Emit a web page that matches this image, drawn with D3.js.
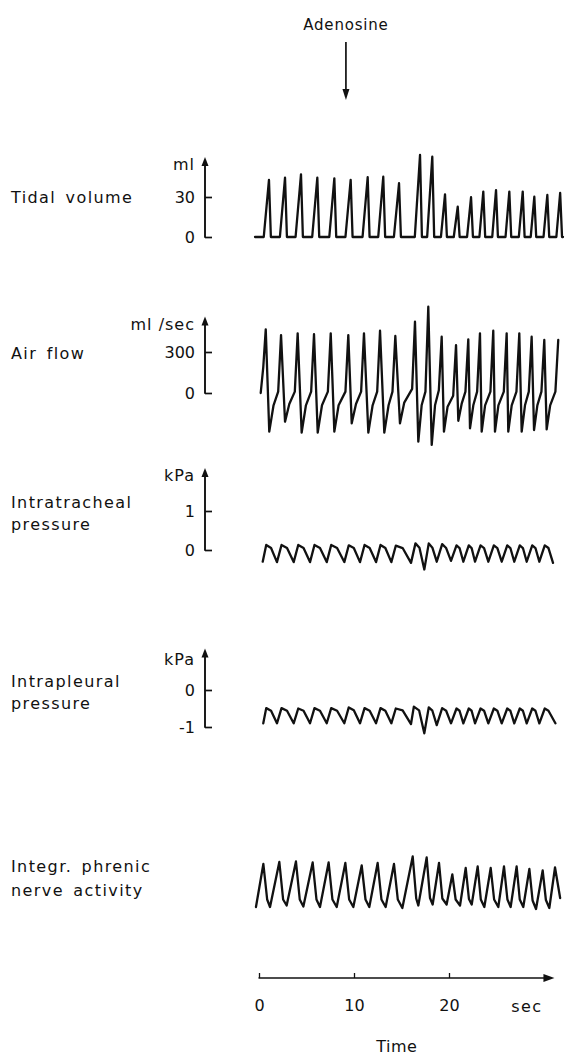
<!DOCTYPE html>
<html><head><meta charset="utf-8">
<script src="https://cdn.jsdelivr.net/npm/d3@7"></script>
<style>
body{margin:0;background:#fff;}
svg text{font-family:"DejaVu Sans",sans-serif;fill:#111;}
</style></head><body>
<svg id="chart" width="565" height="1060"></svg>
<script>
// ---------------- DATA ----------------
const timeTicks = [0, 10, 20];
const timeUnit = "sec";
const timeTitle = "Time";
const adenosineLabel = "Adenosine";
const adenosineTime = 9.15;

const panelNames = [["Tidal volume"], ["Air flow"], ["Intratracheal", "pressure"], ["Intrapleural", "pressure"], ["Integr. phrenic", "nerve activity"]];
const panelUnits = ["ml", "ml /sec", "kPa", "kPa", ""];
const tidalTicks = [0, 30];
const flowTicks = [0, 300];
const trachTicks = [0, 1];
const pleuralTicks = [-1, 0];

// Tidal volume (ml): foot, peak, end of each breath
const tidalStart = [-0.42, 32.0];
const tidalFootT = [0.5, 2.2, 3.85, 5.6, 7.4, 9.1, 10.9, 12.55, 14.2, 16.4, 17.7, 19.15, 20.5, 21.9, 23.2, 24.55, 25.95, 27.35, 28.6, 29.95, 31.3];
const tidalPeakT = [1.05, 2.74, 4.42, 6.14, 7.93, 9.65, 11.44, 13.08, 14.74, 16.95, 18.24, 19.58, 20.92, 22.32, 23.61, 24.95, 26.35, 27.76, 28.98, 30.35, 31.7];
const tidalPeakV = [42.8, 44.5, 47, 44.5, 44, 42.8, 44.8, 45.2, 40.3, 61.5, 60.2, 32, 22.7, 29.8, 34, 35.2, 34, 34, 30.2, 31.5, 33];
const tidalEndT  = [1.25, 2.94, 4.62, 6.34, 8.13, 9.85, 11.64, 13.28, 14.94, 17.15, 18.44, 19.78, 21.12, 22.52, 23.81, 25.15, 26.55, 27.96, 29.18, 30.55, 31.9];

// Air flow (ml/sec)
const flowStartT = [0.18, 0.45];
const flowStartV = [0, 190];
const flowPeakT = [0.71, 2.32, 4.07, 5.79, 7.55, 9.4, 11.05, 12.74, 14.35, 16.42, 17.82, 19.23, 20.74, 22.03, 23.26, 24.66, 26.07, 27.4, 28.7, 30.03, 31.5];
const flowPeakV = [466, 424, 437, 430, 437, 424, 437, 456, 417, 522, 631, 412, 351, 393, 437, 456, 437, 437, 412, 388, 388];
const flowTroughT = [1.08, 2.74, 4.49, 6.18, 7.93, 9.76, 11.51, 13.19, 14.84, 16.77, 18.18, 19.47, 20.98, 22.21, 23.44, 24.84, 26.24, 27.65, 28.95, 30.28];
const flowTroughV = [-283, -210, -290, -290, -283, -222, -290, -290, -222, -356, -380, -283, -203, -258, -283, -283, -283, -283, -271, -266];
const flowKneeAT = [1.53, 3.19, 4.94, 6.63, 8.38, 10.21, 11.96, 13.64, 15.29, 17.12, 18.53, 19.85, 21.33, 22.56, 23.8, 25.2, 26.6, 28.0, 29.3, 30.65];
const flowKneeAV = [-90, -80, -90, -90, -90, -80, -90, -90, -70, -90, -90, -100, -80, -90, -90, -90, -90, -90, -90, -90];
const flowKneeBT = [2.02, 3.77, 5.49, 7.25, 9.1, 10.75, 12.44, 14.05, 16.12, 17.52, 18.93, 20.44, 21.73, 22.96, 24.36, 25.77, 27.1, 28.4, 29.73, 31.2];
const flowKneeBV = [10, 10, 10, 10, 10, 10, 10, 10, 30, 10, 20, -20, 10, 10, 10, 10, 10, 10, 10, 10];

// Intratracheal pressure (kPa)
const trachStart = [0.39, -0.3];
const trachPeakT = [0.76, 2.37, 4.13, 5.84, 7.6, 9.45, 11.11, 12.79, 14.4, 16.47, 17.87, 19.28, 20.79, 22.08, 23.32, 24.72, 26.13, 27.45, 28.76, 30.08];
const trachPeakV = [0.13, 0.13, 0.13, 0.13, 0.13, 0.12, 0.13, 0.13, 0.11, 0.17, 0.17, 0.15, 0.12, 0.12, 0.12, 0.12, 0.12, 0.12, 0.12, 0.12];
const trachMidT = [1.27, 2.95, 4.69, 6.42, 8.22, 9.98, 11.65, 13.3, 15.12, 16.89, 18.25, 19.7, 21.11, 22.38, 23.69, 25.09, 26.46, 27.78, 29.1, 30.47];
const trachMidV = [0.05, 0.05, 0.05, 0.05, 0.05, 0.05, 0.05, 0.05, 0.05, 0.06, 0.06, 0.05, 0.05, 0.05, 0.05, 0.05, 0.05, 0.05, 0.05, 0.05];
const trachTroughT = [1.89, 3.65, 5.37, 7.13, 8.98, 10.63, 12.32, 13.93, 16.0, 17.4, 18.71, 20.21, 21.51, 22.74, 24.14, 25.55, 26.87, 28.18, 29.51, 30.95];
const trachTroughV = [-0.31, -0.31, -0.31, -0.31, -0.31, -0.31, -0.31, -0.31, -0.33, -0.5, -0.3, -0.28, -0.3, -0.3, -0.3, -0.3, -0.3, -0.3, -0.3, -0.33];

// Intrapleural pressure (kPa)
const pleuralStart = [0.45, -0.9];
const pleuralPeakT = [0.76, 2.37, 4.13, 5.84, 7.6, 9.45, 11.11, 12.79, 14.4, 16.3, 17.87, 19.28, 20.79, 22.08, 23.32, 24.72, 26.13, 27.45, 28.76, 30.08];
const pleuralPeakV = [-0.49, -0.49, -0.5, -0.49, -0.49, -0.47, -0.49, -0.49, -0.5, -0.45, -0.47, -0.49, -0.5, -0.5, -0.5, -0.5, -0.5, -0.5, -0.5, -0.5];
const pleuralMidT = [1.27, 2.95, 4.69, 6.42, 8.22, 9.98, 11.65, 13.3, 15.12, 16.85, 18.25, 19.7, 21.11, 22.38, 23.69, 25.09, 26.46, 27.78, 29.1, 30.47];
const pleuralMidV = [-0.56, -0.56, -0.56, -0.56, -0.56, -0.55, -0.56, -0.56, -0.55, -0.55, -0.56, -0.56, -0.56, -0.56, -0.56, -0.56, -0.56, -0.56, -0.56, -0.56];
const pleuralTroughT = [1.89, 3.65, 5.37, 7.13, 8.98, 10.63, 12.32, 13.93, 16.0, 17.4, 18.71, 20.21, 21.51, 22.74, 24.14, 25.55, 26.87, 28.18, 29.51, 31.2];
const pleuralTroughV = [-0.9, -0.9, -0.9, -0.9, -0.9, -0.9, -0.9, -0.9, -0.92, -1.17, -0.95, -0.9, -0.9, -0.9, -0.9, -0.9, -0.9, -0.9, -0.9, -0.9];

// Integrated phrenic nerve activity (arbitrary units)
const phrenicStart = [-0.32, 0];
const phrenicEnd = [31.7, 0.18];
const phrenicPeakT = [0.46, 2.14, 3.89, 5.65, 7.33, 9.09, 10.81, 12.49, 14.21, 16.18, 17.65, 18.95, 20.35, 21.76, 23.02, 24.39, 25.79, 27.12, 28.46, 29.86, 31.16];
const phrenicPeakV = [0.86, 0.90, 0.91, 0.89, 0.89, 0.88, 0.83, 0.88, 0.86, 1.01, 0.99, 0.88, 0.65, 0.78, 0.81, 0.78, 0.81, 0.81, 0.76, 0.73, 0.79];
const phrenicKneeT = [0.86, 2.54, 4.29, 6.05, 7.73, 9.49, 11.21, 12.89, 14.61, 16.55, 18.0, 19.3, 20.7, 22.1, 23.35, 24.75, 26.15, 27.45, 28.8, 30.2];
const phrenicKneeV = [0.15, 0.15, 0.15, 0.15, 0.15, 0.15, 0.15, 0.15, 0.15, 0.17, 0.18, 0.17, 0.15, 0.16, 0.15, 0.15, 0.15, 0.15, 0.13, 0.14];
const phrenicTroughT = [1.16, 2.91, 4.67, 6.42, 8.18, 9.93, 11.61, 13.33, 15.09, 16.77, 18.28, 19.75, 21.16, 22.39, 23.72, 25.19, 26.49, 27.82, 29.16, 30.56];
const phrenicTroughV = [0, 0.03, 0.01, 0, 0, 0, 0, 0, -0.02, 0.03, 0.05, 0.05, 0.03, 0.05, 0, 0, 0, 0, -0.04, -0.02];

// ---------------- BUILD POINT LISTS ----------------
const tidalPts = [[tidalStart[0], 0]];
tidalPeakT.forEach((t, i) => {
  tidalPts.push([tidalFootT[i], 0], [t, tidalPeakV[i]], [tidalEndT[i], 0]);
});
tidalPts.push([tidalStart[1], 0]);

const flowPts = flowStartT.map((t, i) => [t, flowStartV[i]]);
flowPeakT.forEach((t, i) => {
  flowPts.push([t, flowPeakV[i]]);
  if (i < flowTroughT.length) {
    flowPts.push([flowTroughT[i], flowTroughV[i]], [flowKneeAT[i], flowKneeAV[i]], [flowKneeBT[i], flowKneeBV[i]]);
  }
});

const trachPts = [trachStart.slice()];
trachPeakT.forEach((t, i) => {
  trachPts.push([t, trachPeakV[i]], [trachMidT[i], trachMidV[i]], [trachTroughT[i], trachTroughV[i]]);
});

const pleuralPts = [pleuralStart.slice()];
pleuralPeakT.forEach((t, i) => {
  pleuralPts.push([t, pleuralPeakV[i]], [pleuralMidT[i], pleuralMidV[i]], [pleuralTroughT[i], pleuralTroughV[i]]);
});

const phrenicPts = [phrenicStart.slice()];
phrenicPeakT.forEach((t, i) => {
  phrenicPts.push([t, phrenicPeakV[i]]);
  if (i < phrenicTroughT.length) phrenicPts.push([phrenicKneeT[i], phrenicKneeV[i]], [phrenicTroughT[i], phrenicTroughV[i]]);
});
phrenicPts.push(phrenicEnd.slice());

// ---------------- DRAW ----------------
const svg = d3.select("#chart");
const ink = "#111";
const x = d3.scaleLinear().domain([0, 30]).range([259, 544]);
const axisX = 205;

const panels = [
  {y: d3.scaleLinear().domain([0, 30]).range([237, 197]), top: 60, ticks: tidalTicks, pts: tidalPts, unitY: 170, labelY: [203]},
  {y: d3.scaleLinear().domain([0, 300]).range([393, 352]), top: 560, ticks: flowTicks, pts: flowPts, unitY: 330, labelY: [359]},
  {y: d3.scaleLinear().domain([0, 1]).range([550, 511]), top: 2.1, ticks: trachTicks, pts: trachPts, unitY: 481, labelY: [508, 530]},
  {y: d3.scaleLinear().domain([-1, 0]).range([727, 690]), top: 1.12, ticks: pleuralTicks, pts: pleuralPts, unitY: 665, labelY: [687, 709]},
  {y: d3.scaleLinear().domain([0, 1]).range([907, 857]), top: null, ticks: null, pts: phrenicPts, unitY: 0, labelY: [872, 896]}
];

const line = (ys) => d3.line().x(d => x(d[0])).y(d => ys(d[1]));

panels.forEach((p, i) => {
  panelNames[i].forEach((txt, j) => {
    svg.append("text").attr("x", 11).attr("y", p.labelY[j])
      .attr("font-size", 16).attr("letter-spacing", 1.4).attr("word-spacing", 3).text(txt);
  });
  if (p.ticks) {
    const g = svg.append("g").attr("transform", `translate(${axisX},0)`);
    const ax = d3.axisLeft(p.y).tickValues(p.ticks).tickFormat(d => String(d))
      .tickSizeInner(-7).tickSizeOuter(0).tickPadding(10);
    g.call(ax);
    g.select(".domain").remove();
    g.selectAll(".tick line").attr("stroke", ink).attr("stroke-width", 1.7);
    g.selectAll(".tick text").attr("font-size", 16).attr("font-family", "DejaVu Sans").attr("fill", ink);
    const y0 = p.y(d3.min(p.ticks)), y1 = p.y(p.top);
    g.append("line").attr("x1", 0).attr("x2", 0).attr("y1", y0 + 0.8).attr("y2", y1 + 4)
      .attr("stroke", ink).attr("stroke-width", 1.9);
    g.append("path").attr("d", `M0,${y1} L-3.5,${y1 + 9} L3.5,${y1 + 9} Z`).attr("fill", ink);
    svg.append("text").attr("x", 195).attr("y", p.unitY).attr("text-anchor", "end")
      .attr("font-size", 16).attr("letter-spacing", 1).text(panelUnits[i]);
  }
  svg.append("path").datum(p.pts).attr("d", line(p.y))
    .attr("fill", "none").attr("stroke", ink).attr("stroke-width", 2.3)
    .attr("stroke-linejoin", "round").attr("stroke-linecap", "round");
});

// Adenosine marker
const ax0 = x(adenosineTime);
svg.append("text").attr("x", ax0).attr("y", 30).attr("text-anchor", "middle")
  .attr("font-size", 15).attr("letter-spacing", 0.8).text(adenosineLabel);
svg.append("line").attr("x1", ax0).attr("x2", ax0).attr("y1", 42).attr("y2", 94)
  .attr("stroke", ink).attr("stroke-width", 1.7);
svg.append("path").attr("d", `M${ax0},100 L${ax0 - 3.5},89 L${ax0 + 3.5},89 Z`).attr("fill", ink);

// Time axis
const axY = 978;
const tg = svg.append("g").attr("transform", `translate(0,${axY})`);
tg.call(d3.axisBottom(x).tickValues(timeTicks).tickFormat(d => String(d))
  .tickSizeInner(-5).tickSizeOuter(0).tickPadding(22));
tg.select(".domain").remove();
tg.selectAll(".tick line").attr("stroke", ink).attr("stroke-width", 1.3);
tg.selectAll(".tick text").attr("font-size", 16).attr("font-family", "DejaVu Sans").attr("fill", ink);
const xEnd = x(31.1);
tg.append("line").attr("x1", x(0) - 0.5).attr("x2", xEnd - 6).attr("y1", 0).attr("y2", 0)
  .attr("stroke", ink).attr("stroke-width", 1.7);
tg.append("path").attr("d", `M${xEnd},0 L${xEnd - 11},-4 L${xEnd - 11},4 Z`).attr("fill", ink);
svg.append("text").attr("x", x(28.2)).attr("y", 1012).attr("text-anchor", "middle")
  .attr("font-size", 16).attr("letter-spacing", 1.5).text(timeUnit);
svg.append("text").attr("x", x(14.5)).attr("y", 1052).attr("text-anchor", "middle")
  .attr("font-size", 16).attr("letter-spacing", 0.5).text(timeTitle);
</script></body></html>
